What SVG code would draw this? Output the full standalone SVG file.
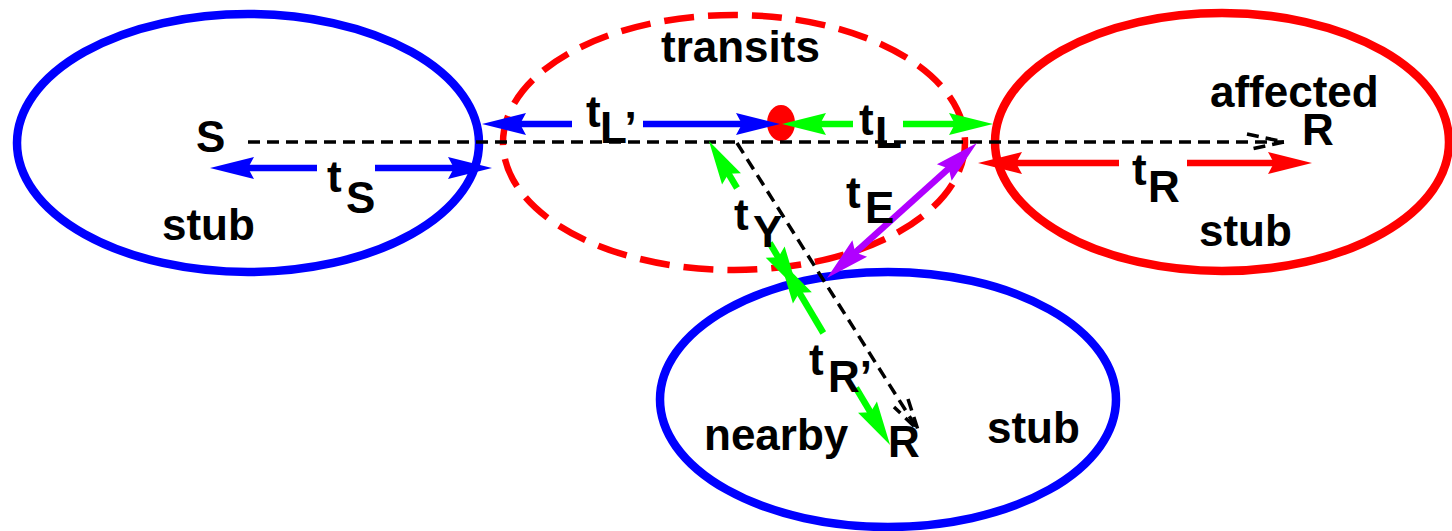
<svg xmlns="http://www.w3.org/2000/svg" width="1452" height="531" viewBox="0 0 1452 531">
<style>
.lbl{font-family:"Liberation Sans",Arial,Helvetica,sans-serif;font-weight:bold;font-size:44px;fill:#000}
.stub-blue{fill:none;stroke:#0000ff;stroke-width:8.5}
.stub-red{fill:none;stroke:#ff0000;stroke-width:8.5}
.transit{fill:none;stroke:#ff0000;stroke-width:6.5;stroke-dasharray:30 14}
.path{fill:none;stroke:#000;stroke-width:3.5;stroke-dasharray:12 7}
.a{fill:none;stroke-width:6.5;stroke-linecap:butt}
.blue{stroke:#0000ff}
.red{stroke:#ff0000}
.green{stroke:#00ff00}
.purple{stroke:#b000ff}
</style>
<defs>
<marker id="hb" markerUnits="userSpaceOnUse" viewBox="-30 -15 55 30" refX="0" refY="0" markerWidth="55" markerHeight="30" orient="auto-start-reverse"><path d="M20,0 L-24,-11 L-18,0 L-24,11 Z" fill="#0000ff"/></marker>
<marker id="hr" markerUnits="userSpaceOnUse" viewBox="-30 -15 55 30" refX="0" refY="0" markerWidth="55" markerHeight="30" orient="auto-start-reverse"><path d="M20,0 L-24,-11 L-18,0 L-24,11 Z" fill="#ff0000"/></marker>
<marker id="hg" markerUnits="userSpaceOnUse" viewBox="-30 -15 55 30" refX="0" refY="0" markerWidth="55" markerHeight="30" orient="auto-start-reverse"><path d="M20,0 L-24,-11 L-18,0 L-24,11 Z" fill="#00ff00"/></marker>
<marker id="hp" markerUnits="userSpaceOnUse" viewBox="-30 -15 55 30" refX="0" refY="0" markerWidth="55" markerHeight="30" orient="auto-start-reverse"><path d="M20,0 L-24,-11 L-18,0 L-24,11 Z" fill="#b000ff"/></marker>
</defs>
<rect width="1452" height="531" fill="#fff"/>

<g id="source-stub">
<ellipse class="stub-blue" cx="248" cy="143" rx="231" ry="129"/>
<text class="lbl" x="196" y="152">S</text>
<text class="lbl" x="162" y="240">stub</text>
</g>

<g id="transits">
<ellipse class="transit" cx="734" cy="142.5" rx="231" ry="127.5"/>
<text class="lbl" x="661" y="62">transits</text>
<ellipse cx="781" cy="123" rx="14" ry="18" fill="#ff0000"/>
</g>

<g id="affected-stub">
<ellipse class="stub-red" cx="1222" cy="142" rx="227" ry="129"/>
<text class="lbl" x="1210" y="107">affected</text>
<text class="lbl" x="1302" y="145">R</text>
<text class="lbl" x="1199" y="246">stub</text>
</g>

<g id="nearby-stub">
<ellipse class="stub-blue" cx="888" cy="399.5" rx="228" ry="127.5"/>
<text class="lbl" x="704" y="450">nearby</text>
<text class="lbl" x="888" y="457">R</text>
<text class="lbl" x="987" y="443">stub</text>
</g>

<g id="connectors">
<path class="path" d="M248,142 H1284"/>
<path class="path" d="M1247,134 L1284,142 L1247,150"/>
<path class="path" d="M737,143 L918,430"/>
<path class="path" d="M908,399 L918,430 L894,407"/>

<line class="a blue" x1="317" y1="168" x2="230" y2="168" marker-end="url(#hb)"/>
<line class="a blue" x1="375" y1="168" x2="472" y2="168" marker-end="url(#hb)"/>
<line class="a blue" x1="572" y1="124" x2="502" y2="124" marker-end="url(#hb)"/>
<line class="a blue" x1="643" y1="124" x2="760" y2="124" marker-end="url(#hb)"/>
<line class="a green" x1="853" y1="124" x2="802" y2="124" marker-end="url(#hg)"/>
<line class="a green" x1="903" y1="124" x2="973" y2="124" marker-end="url(#hg)"/>
<line class="a red" x1="1119" y1="163" x2="998" y2="163" marker-end="url(#hr)"/>
<line class="a red" x1="1187" y1="163" x2="1292" y2="163" marker-end="url(#hr)"/>
<line class="a purple" x1="841.9" y1="264.6" x2="962.1" y2="156.4" marker-start="url(#hp)" marker-end="url(#hp)"/>
<line class="a green" x1="737" y1="188" x2="719.2" y2="158.2" marker-end="url(#hg)"/>
<line class="a green" x1="769.7" y1="243" x2="787.5" y2="272.8" marker-end="url(#hg)"/>
<line class="a green" x1="823.3" y1="333" x2="790.1" y2="277.2" marker-end="url(#hg)"/>
<line class="a green" x1="856" y1="388" x2="879.8" y2="427.8" marker-end="url(#hg)"/>

<text class="lbl" x="327" y="192">t</text><text class="lbl" x="346" y="213">S</text>
<text class="lbl" x="586" y="127">t</text><text class="lbl" x="600" y="143">L’</text>
<text class="lbl" x="859" y="135">t</text><text class="lbl" x="875" y="148">L</text>
<text class="lbl" x="846" y="208">t</text><text class="lbl" x="865" y="223">E</text>
<text class="lbl" x="734" y="230">t</text><text class="lbl" x="753" y="247">Y</text>
<text class="lbl" x="809" y="375">t</text><text class="lbl" x="828" y="392">R’</text>
<text class="lbl" x="1132" y="185">t</text><text class="lbl" x="1148" y="202">R</text>
</g>
</svg>
